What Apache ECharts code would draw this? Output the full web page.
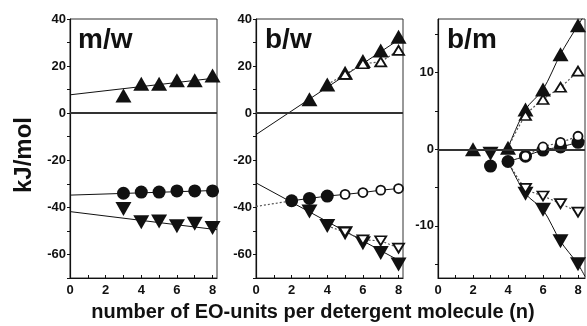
<!DOCTYPE html>
<html>
<head>
<meta charset="utf-8">
<script src="https://cdn.jsdelivr.net/npm/echarts@6/dist/echarts.min.js"></script>
<style>
  html, body { margin: 0; padding: 0; background: #fff; }
  #chart { width: 587px; height: 326px; }
</style>
</head>
<body>
<div id="chart"></div>
<script>
// ---- m/w panel ----
const mwUpX = [3, 4, 5, 6, 7, 8];
const mwUp = [7.5, 12.5, 12.5, 14, 14, 16];
const mwCircle = [-34, -33.5, -33.5, -33, -33, -33];
const mwDown = [-40.7, -46.3, -46, -48, -47, -48.8];
const mwUpFit = [[0, 7.8], [8.25, 15]];
const mwCircleFit = [[0, -34.8], [8.25, -32.8]];
const mwDownFit = [[0, -41.8], [8.25, -49.5]];

// ---- b/w panel ----
const bwUpX = [3, 4, 5, 6, 7, 8];
const bwUp = [5.9, 12.2, 17.2, 22.2, 26.6, 32.5];
const bwUpOpenX = [5, 6, 7, 8];
const bwUpOpen = [16.5, 21, 21.8, 26.7];
const bwCircleX = [2, 3, 4];
const bwCircle = [-37.2, -36.2, -35.2];
const bwCircleOpenX = [5, 6, 7, 8];
const bwCircleOpen = [-34.5, -33.7, -32.7, -32];
const bwDownX = [3, 4, 5, 6, 7, 8];
const bwDown = [-41.8, -47.9, -51, -55.2, -59.4, -64.3];
const bwDownOpenX = [5, 6, 7, 8];
const bwDownOpen = [-50.5, -53.8, -54.2, -57.3];
const bwUpFit = [[0, -9.1], [8.25, 32.4]];
const bwDownFit = [[0, -29.6], [8.25, -63.5]];
const bwCircleLead = [[0, -39.6], [2, -37.2]];

// ---- b/m panel ----
const bmUpX = [2, 4, 5, 6, 7, 8];
const bmUp = [0, 0.2, 5.2, 7.8, 12.4, 16.2];
const bmUpOpenX = [5, 6, 7, 8];
const bmUpOpen = [4.4, 6.5, 8.1, 10.2];
const bmCircleX = [3, 4, 5, 6, 7, 8];
const bmCircle = [-2.2, -1.6, -0.9, -0.1, 0.3, 0.9];
const bmCircleOpenX = [5, 6, 7, 8];
const bmCircleOpen = [-0.9, 0.3, 0.9, 1.7];
const bmDownX = [3, 5, 6, 7, 8];
const bmDown = [-0.6, -5.8, -7.9, -12, -15];
const bmDownOpenX = [5, 6, 7, 8];
const bmDownOpen = [-5.1, -6.1, -7.1, -8.2];
const bmUpCurve = [[4, 0.2], [5, 5.2], [6, 7.8], [7, 12.4], [8, 16.2], [8.4, 17.6]];
const bmUpOpenCurve = [[4, 0.2], [5, 4.4], [6, 6.5], [7, 8.1], [8, 10.2]];
const bmCircleCurve = [[4, -1.6], [5, -0.9], [6, -0.1], [7, 0.3], [8, 0.9], [8.4, 1.1]];
const bmCircleOpenCurve = [[5, -0.9], [6, 0.3], [7, 0.9], [8, 1.7]];
const bmDownCurve = [[4, -1.6], [5, -5.8], [6, -7.9], [7, -12], [8, -15], [8.4, -16.6]];
const bmDownOpenCurve = [[4, -1.6], [5, -5.1], [6, -6.1], [7, -7.1], [8, -8.2]];

// tick labels
const xLabels = [0, 2, 4, 6, 8];
const xTicks = [0, 1, 2, 3, 4, 5, 6, 7, 8];
const kjLabels = [-60, -40, -20, 0, 20, 40];
const kjTicks = [-70, -60, -50, -40, -30, -20, -10, 0, 10, 20, 30, 40];
const bmLabels = [-10, 0, 10];
const bmTicks = [-15, -10, -5, 0, 5, 10, 15];

const panelTitles = ['m/w', 'b/w', 'b/m'];

const FONT = '"Liberation Sans", Arial, Helvetica, sans-serif';
const INK = '#111';

const zip = (xs, ys) => xs.map((x, i) => [x, ys[i]]);

const gridLefts = [70, 256, 438];
const grids = gridLefts.map(l => ({
  left: l, width: 147, top: 19, bottom: 48,
  show: true, borderColor: '#333', borderWidth: 1, backgroundColor: 'transparent'
}));

function xAxis(i, max) {
  return {
    type: 'value', gridIndex: i, min: 0, max: max,
    axisLine: { show: true, onZero: false, lineStyle: { color: INK, width: 1.2 } },
    axisTick: { show: true, inside: true, length: 3, customValues: xTicks, lineStyle: { color: INK } },
    axisLabel: { customValues: xLabels, color: INK, fontFamily: FONT, fontWeight: 'bold', fontSize: 13, margin: 6 },
    splitLine: { show: false }
  };
}
function yAxis(i, min, max, labels, ticks) {
  return {
    type: 'value', gridIndex: i, min: min, max: max,
    axisLine: { show: true, onZero: false, lineStyle: { color: INK, width: 1.2 } },
    axisTick: { show: true, inside: false, length: 3, customValues: ticks, lineStyle: { color: INK } },
    axisLabel: { customValues: labels, color: INK, fontFamily: FONT, fontWeight: 'bold', fontSize: 13, margin: 4 },
    splitLine: { show: false }
  };
}

function fitLine(i, data, dotted, smooth) {
  return {
    type: 'line', xAxisIndex: i, yAxisIndex: i, data: data, showSymbol: false,
    smooth: smooth || false, silent: true, z: 2,
    lineStyle: dotted ? { color: '#555', width: 1.2, type: [2, 2] } : { color: INK, width: 1 }
  };
}

function markers(i, data, kind, open) {
  let symbol = 'circle', size = 13, rotate = 0;
  if (kind === 'up') { symbol = 'triangle'; size = [16, 14]; }
  if (kind === 'down') { symbol = 'triangle'; size = [16, 14]; rotate = 180; }
  if (open) {
    if (kind === 'circle') size = 9; else size = [11, 9];
  }
  return {
    type: 'scatter', xAxisIndex: i, yAxisIndex: i, data: data,
    symbol: symbol, symbolSize: size, symbolRotate: rotate, silent: true, z: open ? 5 : 4,
    itemStyle: open
      ? { color: '#fff', borderColor: INK, borderWidth: 1.8, opacity: 1 }
      : { color: INK, borderColor: INK, borderWidth: 0, opacity: 1 }
  };
}

function zeroLine(i) {
  return {
    type: 'line', xAxisIndex: i, yAxisIndex: i, data: [], silent: true,
    markLine: {
      silent: true, symbol: 'none', label: { show: false },
      lineStyle: { color: '#333', width: 1.8, type: 'solid' },
      data: [{ yAxis: 0 }]
    }
  };
}

const series = [
  // m/w
  zeroLine(0),
  fitLine(0, mwUpFit), fitLine(0, mwCircleFit), fitLine(0, mwDownFit),
  markers(0, zip(mwUpX, mwUp), 'up'),
  markers(0, zip(mwUpX, mwCircle), 'circle'),
  markers(0, zip(mwUpX, mwDown), 'down'),
  // b/w
  zeroLine(1),
  fitLine(1, bwUpFit), fitLine(1, bwDownFit),
  fitLine(1, bwCircleLead, true),
  fitLine(1, zip(bwCircleX.concat(bwCircleOpenX), bwCircle.concat(bwCircleOpen))),
  fitLine(1, [[4, 12.2]].concat(zip(bwUpOpenX, bwUpOpen)), true),
  fitLine(1, [[4, -47.9]].concat(zip(bwDownOpenX, bwDownOpen)), true),
  markers(1, zip(bwUpX, bwUp), 'up'),
  markers(1, zip(bwCircleX, bwCircle), 'circle'),
  markers(1, zip(bwDownX, bwDown), 'down'),
  markers(1, zip(bwUpOpenX, bwUpOpen), 'up', true),
  markers(1, zip(bwCircleOpenX, bwCircleOpen), 'circle', true),
  markers(1, zip(bwDownOpenX, bwDownOpen), 'down', true),
  // b/m
  zeroLine(2),
  fitLine(2, bmUpCurve, false, 0.3), fitLine(2, bmUpOpenCurve, true, 0.3),
  fitLine(2, bmCircleCurve, false, 0.3), fitLine(2, bmCircleOpenCurve, true, 0.3),
  fitLine(2, bmDownCurve, false, 0.3), fitLine(2, bmDownOpenCurve, true, 0.3),
  markers(2, zip(bmUpX, bmUp), 'up'),
  markers(2, zip(bmCircleX, bmCircle), 'circle'),
  markers(2, zip(bmDownX, bmDown), 'down'),
  markers(2, zip(bmUpOpenX, bmUpOpen), 'up', true),
  markers(2, zip(bmCircleOpenX, bmCircleOpen), 'circle', true),
  markers(2, zip(bmDownOpenX, bmDownOpen), 'down', true)
];

const titleX = [78, 265, 447];
const graphics = panelTitles.map((t, i) => ({
  type: 'text', left: titleX[i], top: 26, z: 10,
  style: { text: t, fill: INK, font: 'bold 28px ' + FONT }
}));
graphics.push({
  type: 'text', x: 24, y: 155, rotation: Math.PI / 2, z: 10,
  style: { text: 'kJ/mol', fill: INK, font: 'bold 24px ' + FONT, align: 'center', verticalAlign: 'middle' }
});
graphics.push({
  type: 'text', x: 313, y: 312, z: 10,
  style: { text: 'number of EO-units per detergent molecule (n)', fill: INK, font: 'bold 20px ' + FONT, align: 'center', verticalAlign: 'middle' }
});

const chart = echarts.init(document.getElementById('chart'), null, { renderer: 'canvas' });
chart.setOption({
  animation: false,
  backgroundColor: '#fff',
  grid: grids,
  xAxis: [xAxis(0, 8.25), xAxis(1, 8.25), xAxis(2, 8.4)],
  yAxis: [
    yAxis(0, -70, 40, kjLabels, kjTicks),
    yAxis(1, -70, 40, kjLabels, kjTicks),
    yAxis(2, -16.8, 17, bmLabels, bmTicks)
  ],
  graphic: graphics,
  series: series
});
</script>
</body>
</html>
